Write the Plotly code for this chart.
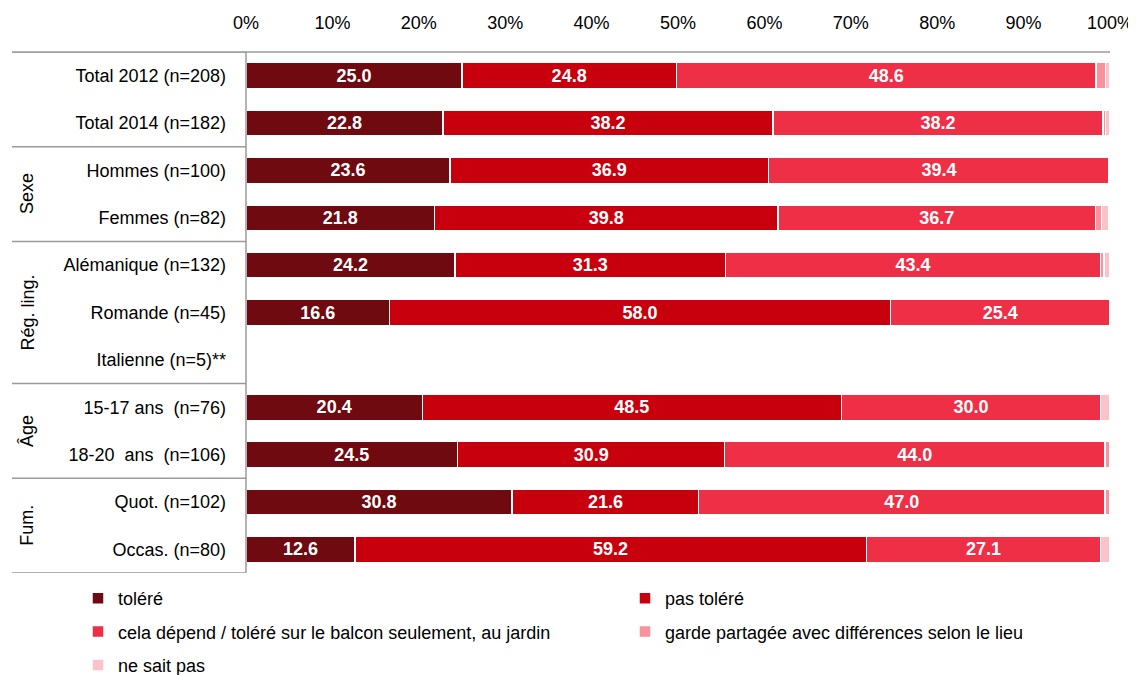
import plotly.graph_objects as go

categories = ["Total 2012 (n=208)", "Total 2014 (n=182)", "Hommes (n=100)", "Femmes (n=82)",
              "Alémanique (n=132)", "Romande (n=45)", "Italienne (n=5)**",
              "15-17 ans  (n=76)", "18-20  ans  (n=106)", "Quot. (n=102)", "Occas. (n=80)"]

tolere = [25.0, 22.8, 23.6, 21.8, 24.2, 16.6, None, 20.4, 24.5, 30.8, 12.6]
pas_tolere = [24.8, 38.2, 36.9, 39.8, 31.3, 58.0, None, 48.5, 30.9, 21.6, 59.2]
cela_depend = [48.6, 38.2, 39.4, 36.7, 43.4, 25.4, None, 30.0, 44.0, 47.0, 27.1]
garde = [1.1, 0.3, 0.0, 0.7, 0.4, 0.0, None, 0.0, 0.6, 0.6, 0.0]
ne_sait_pas = [0.5, 0.5, 0.0, 0.9, 0.7, 0.0, None, 1.1, 0.0, 0.0, 1.1]

tick_vals = [0, 10, 20, 30, 40, 50, 60, 70, 80, 90, 100]
tick_text = [f"{v}%" for v in tick_vals]

groups = [("Sexe", 2.5), ("Rég. ling.", 5), ("Âge", 7.5), ("Fum.", 9.5)]
separators = [-0.5, 1.5, 3.5, 6.5, 8.5, 10.5]

series = [
    ("toléré", tolere, "#6E0A10", True, "legend"),
    ("pas toléré", pas_tolere, "#C8000E", True, "legend2"),
    ("cela dépend / toléré sur le balcon seulement, au jardin", cela_depend, "#EE2F45", True, "legend"),
    ("garde partagée avec différences selon le lieu", garde, "#F8939E", False, "legend2"),
    ("ne sait pas", ne_sait_pas, "#FBC3C9", False, "legend"),
]

FONT = "Liberation Sans, Arial, sans-serif"

fig = go.Figure()
for i, (name, vals, color, show_text, leg) in enumerate(series):
    fig.add_trace(go.Bar(
        y=categories, x=vals, name=name, orientation="h",
        marker=dict(color=color, line=dict(color="white", width=1.5)),
        texttemplate="<b>%{x:.1f}</b>" if show_text else "",
        textposition="inside", insidetextanchor="middle", textangle=0,
        textfont=dict(color="white", size=18, family=FONT),
        legend=leg, legendgroup=f"g{i}",
        hoverinfo="x+y+name",
    ))

# page body has an 8px margin; figure sized to fit window
W, H = 1128, 667
ml, mr, mt, mb = 238, 26, 44, 102
pw = W - ml - mr
ph = H - mt - mb
left_px = 4
xl = (left_px - ml) / pw

shapes = []
for s in separators:
    shapes.append(dict(type="line", xref="paper", yref="y", x0=xl, x1=0, y0=s, y1=s,
                       line=dict(color="#9a9a9a", width=1.5)))
shapes.append(dict(type="line", xref="paper", yref="paper", x0=xl, x1=1, y0=1, y1=1,
                   line=dict(color="#9a9a9a", width=1.5)))
shapes.append(dict(type="line", xref="paper", yref="paper", x0=0, x1=0, y0=0, y1=1,
                   line=dict(color="#9a9a9a", width=1.5)))

annotations = []
for label, pos in groups:
    annotations.append(dict(text=label, xref="paper", yref="y", x=(19 - ml) / pw, y=pos,
                            showarrow=False, textangle=-90, xanchor="center", yanchor="middle",
                            font=dict(size=18, color="black", family=FONT)))

leg_common = dict(orientation="v", xanchor="left", y=-7 / ph, yanchor="top",
                  traceorder="grouped", tracegroupgap=7,
                  font=dict(size=18, family=FONT), bgcolor="rgba(0,0,0,0)")

fig.update_layout(
    width=W, height=H, barmode="stack", bargap=0.45,
    margin=dict(l=ml, r=mr, t=mt, b=mb, autoexpand=False),
    plot_bgcolor="white", paper_bgcolor="white",
    font=dict(family=FONT, size=18, color="black"),
    xaxis=dict(side="top", range=[0, 100], tickvals=tick_vals, ticktext=tick_text,
               showgrid=False, zeroline=False, showline=False, ticks="", ticklabelstandoff=18,
               tickfont=dict(size=18), automargin=False),
    yaxis=dict(range=[10.5, -0.5], showgrid=False, zeroline=False, showline=False,
               ticks="", ticklabelstandoff=19, tickfont=dict(size=18), automargin=False),
    legend=dict(x=(70 - ml) / pw, **leg_common),
    legend2=dict(x=(617 - ml) / pw, **leg_common),
    shapes=shapes, annotations=annotations,
    uniformtext=dict(mode=False),
)

fig.write_html("out.html")
